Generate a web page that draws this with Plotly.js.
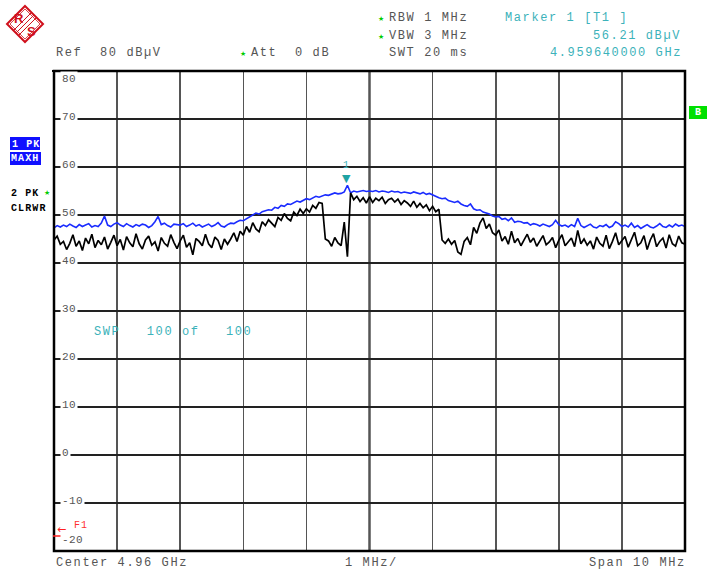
<!DOCTYPE html>
<html><head><meta charset="utf-8">
<script src="https://cdn.plot.ly/plotly-3.0.1.min.js"></script>
<style>
html,body{margin:0;padding:0;background:#fff;}
#chart{width:707px;height:572px;}
text[style*="font-size: 12px"]{letter-spacing:1.6px;}
text[style*="font-size: 10px"]{letter-spacing:1.1px;}
text[style*="font-size: 11px"]{letter-spacing:0.4px;}
</style></head><body><div id="chart"></div>
<script>
// Sweep definition (MHz)
const startFreqMHz = 4955;
const stepMHz = 0.05;
const spanStartMHz = 4955;
const spanStopMHz = 4965;
const centerMHz = 4960;

// Trace 1: PK MAXH (blue), dBµV
const maxHold = [
47.3,47.8,47.5,47.9,47.6,48.1,47.7,47.4,48.0,47.6,47.9,48.2,47.5,47.8,47.6,48.3,49.8,47.9,47.6,48.1,
48.4,47.9,47.6,48.2,47.8,47.5,48.0,47.7,48.1,47.9,47.4,47.8,48.6,49.7,48.0,48.3,47.8,47.5,48.1,48.0,
47.9,48.2,47.6,47.9,48.3,47.7,48.0,47.5,47.8,48.1,47.6,47.9,48.4,47.7,47.5,48.0,48.3,48.2,48.6,48.9,
48.8,49.2,49.6,49.9,50.4,50.2,50.7,50.9,51.1,51.0,51.6,51.4,52.0,51.8,52.3,52.2,52.6,52.9,52.7,53.1,
53.4,53.2,53.6,53.9,53.7,54.0,54.2,54.1,54.3,54.6,54.4,54.5,54.8,56.2,54.6,55.0,54.8,54.9,55.1,54.9,
55.0,54.9,55.1,54.8,55.0,54.9,54.7,55.0,54.8,54.9,54.6,54.8,54.7,54.5,54.8,54.6,54.4,54.7,54.3,54.5,
54.2,53.8,53.6,53.4,53.5,53.0,52.8,52.6,52.9,52.3,52.0,51.8,52.3,51.3,51.0,51.1,50.6,50.4,50.2,49.8,
49.6,49.7,49.1,49.3,48.8,49.4,48.5,48.7,48.6,48.3,48.4,47.9,48.2,48.0,47.7,48.1,47.8,47.6,48.0,48.9,
48.0,47.7,47.9,47.5,48.0,47.6,49.3,47.8,47.4,47.7,48.1,47.5,47.3,47.8,47.6,48.0,47.4,47.7,48.6,48.2,
47.6,47.9,47.5,48.3,47.4,47.8,47.2,47.6,48.0,47.5,47.3,47.7,48.2,47.6,47.4,47.9,47.5,48.1,47.7,47.9,47.6
];

// Trace 2: PK CLRWR (black), dBµV
const clearWrite = [
44.8,45.6,43.9,44.5,42.8,44.1,45.9,43.5,44.6,42.6,45.2,44.0,46.0,43.2,44.7,43.8,45.4,42.9,44.3,45.8,
43.6,44.9,42.7,45.5,44.2,43.4,46.1,44.0,42.9,44.8,45.6,43.7,44.4,42.5,45.3,44.1,43.5,45.9,44.3,43.0,
44.6,45.8,43.3,44.2,41.7,45.1,44.5,43.6,46.0,44.0,43.2,45.4,44.7,42.8,45.0,43.9,45.0,46.3,44.5,46.6,
45.8,47.6,46.4,48.4,47.1,46.5,48.6,47.8,49.0,48.2,47.6,49.5,48.9,50.3,49.3,48.8,50.6,49.9,51.2,50.3,
51.3,50.6,52.0,51.4,52.6,52.4,45.0,44.6,43.5,45.3,44.2,43.6,48.5,41.3,54.6,53.2,53.9,52.8,53.6,52.5,
53.8,52.6,53.5,53.0,53.7,52.4,53.2,53.5,52.7,53.3,52.2,53.0,52.5,51.8,52.9,51.6,52.4,51.5,52.1,50.9,
51.8,50.7,51.2,44.8,44.1,45.0,43.9,44.7,42.3,41.8,44.5,45.3,43.8,47.4,46.2,48.3,49.4,47.2,48.1,46.3,
45.8,46.9,44.6,45.5,43.9,46.6,44.2,45.1,43.6,44.8,46.0,44.3,45.2,43.5,44.6,45.7,43.8,44.4,45.3,43.2,
44.7,45.9,43.6,44.3,45.2,43.4,46.8,44.0,45.0,43.7,44.6,42.9,45.4,44.1,43.5,45.8,43.0,44.5,46.3,43.8,
44.6,45.5,43.3,44.9,46.4,43.6,44.2,45.7,42.8,44.8,46.1,43.4,44.5,45.2,43.1,45.9,44.0,43.5,45.6,44.2,43.9
];

// Level axis
const yTicks = [80,70,60,50,40,30,20,10,0,-10,-20];
const yTickLabels = ['80','70','60','50','40','30','20','10','0','-10','-20'];

// Marker 1
const markerFreqMHz = 4959.64;
const markerLevel = 56.21;

// Header / footer texts
const refText = 'Ref  80 dBµV';
const attText = 'Att  0 dB';
const rbwText = 'RBW 1 MHz';
const vbwText = 'VBW 3 MHz';
const swtText = 'SWT 20 ms';
const markerTitle = 'Marker 1 [T1 ]';
const markerLevelText = '56.21 dBµV';
const markerFreqText = '4.959640000 GHz';
const centerText = 'Center 4.96 GHz';
const divText = '1 MHz/';
const spanText = 'Span 10 MHz';
const sweepText = 'SWP   100 of   100';

const MONO = 'Liberation Mono, DejaVu Sans Mono, monospace';
const GRAY = '#555';
const TEAL = '#3cb2ba';
const GREEN = '#00cc00';

// pixel -> paper helpers (plot area 54..685 x 71..551)
const L = 54, R = 685, TOP = 71, BOT = 551;
const px = x => (x - L) / (R - L);
const py = y => (BOT - y) / (BOT - TOP);
const nb = s => s.replace(/ /g, '\u00a0');

function T(text, x, y, o = {}) {
  return {
    xref: 'paper', yref: 'paper', x: px(x), y: py(y),
    xanchor: o.xa || 'left', yanchor: 'middle',
    text: nb(text), showarrow: false,
    font: {family: o.family || MONO, size: o.size || 12, color: o.color || GRAY, weight: o.weight || 'normal'},
    bgcolor: o.bg || 'rgba(0,0,0,0)', borderpad: o.pad || 0
  };
}

const annotations = [
  T(refText, 55, 53),
  T('★', 239, 54, {color: GREEN, size: 7, family: 'DejaVu Sans'}),
  T(attText, 250, 53),
  T('★', 377, 19, {color: GREEN, size: 7, family: 'DejaVu Sans'}),
  T(rbwText, 388, 18),
  T('★', 377, 37, {color: GREEN, size: 7, family: 'DejaVu Sans'}),
  T(vbwText, 388, 36),
  T(swtText, 388, 53),
  T(markerTitle, 504, 18, {color: TEAL}),
  T(markerLevelText, 592, 36, {color: TEAL}),
  T(markerFreqText, 549, 53, {color: TEAL}),
  T(centerText, 55, 563),
  T(divText, 344, 563),
  T(spanText, 588, 563),
  T(sweepText, 93, 332, {color: TEAL}),
  // left trace info
  T('1 PK', 11, 144, {color: '#fff', size: 10, weight: 'bold'}),
  T('MAXH', 10, 158, {color: '#fff', size: 10, weight: 'bold'}),
  T('2 PK', 10, 193, {color: '#000', size: 10, weight: 'bold'}),
  T('★', 43, 193, {color: GREEN, size: 7, family: 'DejaVu Sans'}),
  T('CLRWR', 10, 208, {color: '#000', size: 10, weight: 'bold'}),
  T('B', 698, 112, {color: '#fff', size: 10, weight: 'bold', xa: 'center'}),
  // F1 indicator
  T('←', 56, 529, {color: '#ff2020', size: 11, family: 'DejaVu Sans'}),
  T('F1', 73, 525, {color: '#ff3030', size: 10}),
  // logo letters
  T('R', 19, 18, {color: '#d0101c', size: 13, weight: 'bold', family: 'Liberation Sans', xa: 'center'}),
  T('S', 31, 31, {color: '#d0101c', size: 13, weight: 'bold', family: 'Liberation Sans', xa: 'center'}),
  // marker
  {xref: 'x', yref: 'y', x: markerFreqMHz, y: markerLevel, text: '▼', showarrow: false,
   xanchor: 'center', yanchor: 'bottom', yshift: -2,
   font: {family: 'DejaVu Sans', size: 11, color: '#1fa3a3'}},
  {xref: 'x', yref: 'y', x: markerFreqMHz, y: markerLevel, text: '1', showarrow: false,
   xanchor: 'center', yanchor: 'bottom', yshift: 12,
   font: {family: MONO, size: 10, color: TEAL}}
];

// gridline labels with white background (break the gridline)
yTicks.forEach((v, i) => {
  let ys = 2;
  if (v === yTicks[0]) ys = -8;
  if (v === yTicks[yTicks.length - 1]) ys = 11;
  annotations.push({
    xref: 'paper', yref: 'y', x: px(60), y: v, yshift: ys,
    xanchor: 'left', yanchor: 'middle', showarrow: false,
    text: yTickLabels[i],
    font: {family: MONO, size: 11, color: GRAY},
    bgcolor: '#fff', borderpad: 1
  });
});

function P(pts) {
  return 'M' + pts.map(p => px(p[0]).toFixed(5) + ',' + py(p[1]).toFixed(5)).join(' L') ;
}

const shapes = [
  // center line
  {type: 'line', xref: 'x', yref: 'paper', x0: centerMHz, x1: centerMHz, y0: 0, y1: 1,
   line: {color: '#000', width: 2}, layer: 'between'},
  // frame
  {type: 'rect', xref: 'paper', yref: 'paper', x0: 0, x1: 1, y0: 0, y1: 1,
   line: {color: '#000', width: 2.5}, layer: 'above'},
  {type: 'line', xref: 'paper', yref: 'paper', x0: px(52), x1: 1, y0: 1, y1: 1,
   line: {color: '#000', width: 2}, layer: 'above'},
  // label boxes
  {type: 'rect', xref: 'paper', yref: 'paper', x0: px(10), x1: px(40), y0: py(150), y1: py(137),
   fillcolor: '#1010ff', line: {width: 0}, layer: 'below'},
  {type: 'rect', xref: 'paper', yref: 'paper', x0: px(10), x1: px(41), y0: py(165), y1: py(152),
   fillcolor: '#1010ff', line: {width: 0}, layer: 'below'},
  {type: 'rect', xref: 'paper', yref: 'paper', x0: px(689), x1: px(707), y0: py(119), y1: py(106),
   fillcolor: '#00e000', line: {width: 0}, layer: 'below'},
  // F1 red line
  {type: 'line', xref: 'paper', yref: 'paper', x0: px(53), x1: px(66), y0: py(536), y1: py(536),
   line: {color: '#ff2020', width: 1.5}, layer: 'above'},
  // logo
  {type: 'path', xref: 'paper', yref: 'paper', path: P([[25,6],[43,24],[25,42],[7,24]]) + ' Z',
   line: {color: '#d0101c', width: 2}, layer: 'above'},
  {type: 'path', xref: 'paper', yref: 'paper', path: P([[25,9],[40,24],[25,39],[10,24]]) + ' Z',
   line: {color: '#d0101c', width: 0.8}, layer: 'above'},
];
[-2.5, 0, 2.5].forEach(d => {
  shapes.push({type: 'path', xref: 'paper', yref: 'paper', path: P([[16 + d, 33 + d], [34 + d, 15 + d]]),
    line: {color: '#d0101c', width: 1}, layer: 'above'});
});

const traces = [
  {type: 'scatter', mode: 'lines', name: '1 PK MAXH', x0: startFreqMHz, dx: stepMHz, y: maxHold,
   line: {color: '#1a2cff', width: 1.6}, hoverinfo: 'skip'},
  {type: 'scatter', mode: 'lines', name: '2 PK CLRWR', x0: startFreqMHz, dx: stepMHz, y: clearWrite,
   line: {color: '#000', width: 1.7}, hoverinfo: 'skip'}
];

const layout = {
  width: 707, height: 572,
  margin: {l: 54, r: 22, t: 71, b: 21, pad: 0},
  paper_bgcolor: '#fff', plot_bgcolor: '#fff',
  showlegend: false,
  xaxis: {range: [spanStartMHz, spanStopMHz], tick0: spanStartMHz, dtick: 1, showgrid: true,
          gridcolor: '#555', gridwidth: 1.6, showticklabels: false, zeroline: false, showline: false, ticks: ''},
  yaxis: {range: [yTicks[yTicks.length - 1], yTicks[0]], tick0: 0, dtick: 10, showgrid: true,
          gridcolor: '#222', gridwidth: 1.4, showticklabels: false, zeroline: false, showline: false, ticks: ''},
  shapes: shapes,
  annotations: annotations
};

Plotly.newPlot('chart', traces, layout, {staticPlot: true, displayModeBar: false});
</script></body></html>
